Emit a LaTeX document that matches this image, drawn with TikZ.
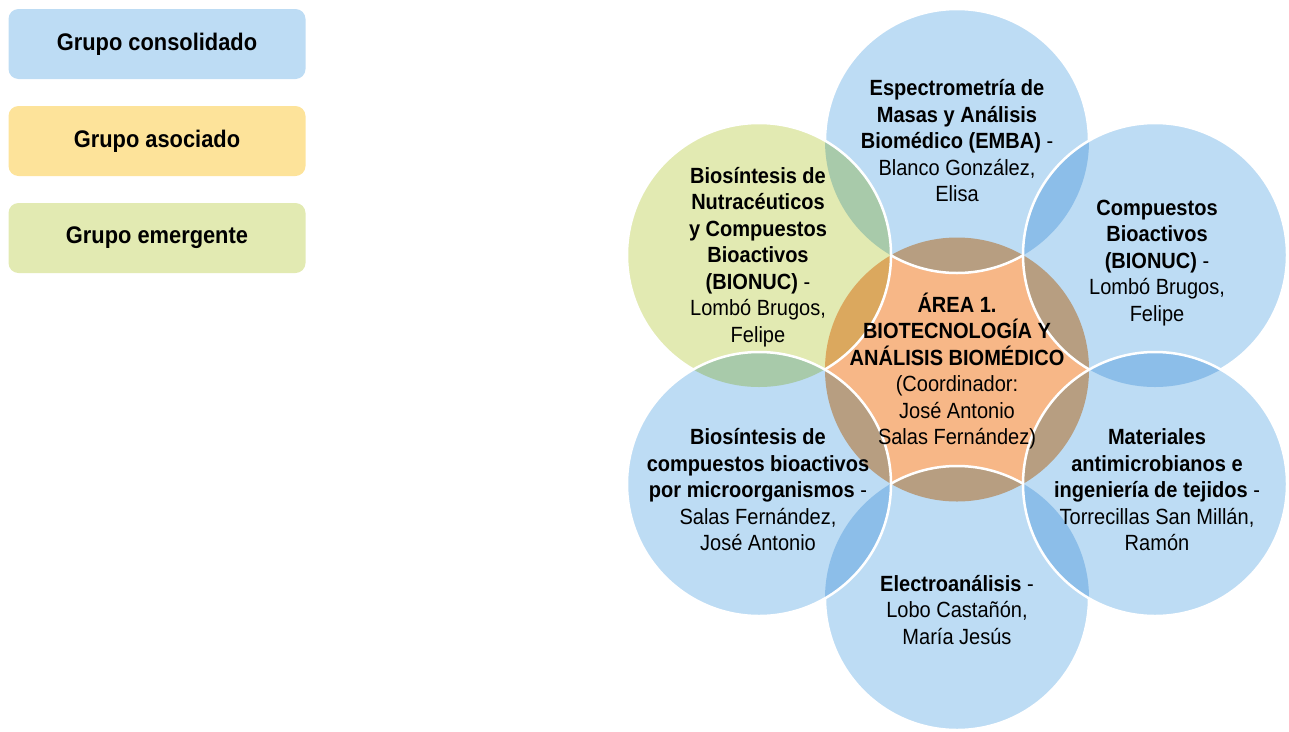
\documentclass[tikz,border=0pt]{standalone}
\usepackage{fontspec}
\setmainfont{Liberation Sans}[FakeStretch=0.91]
\usepackage{tikz}
\usetikzlibrary{calc}

\definecolor{azul}{HTML}{BDDCF4}
\definecolor{naranja}{HTML}{F7B787}
\definecolor{verde}{HTML}{E2EAB2}
\definecolor{amarillo}{HTML}{FDE39A}
% colores de los solapes
\definecolor{azulazul}{HTML}{8CBEE9}
\definecolor{azulnaranja}{HTML}{B79E81}
\definecolor{verdeazul}{HTML}{A8CAAA}
\definecolor{verdenaranja}{HTML}{DBA85E}

\tikzset{
  leyenda/.style={rounded corners=10pt, minimum width=297pt, minimum height=70pt,
    inner sep=0pt, font=\bfseries\fontsize{24}{27}\selectfont},
  texto/.style={align=center, inner sep=0pt, font=\fontsize{22}{26.5}\selectfont},
  borde/.style={white, line width=2.5pt}
}

\begin{document}
\begin{tikzpicture}[x=1pt,y=-1pt]
\useasboundingbox (0,0) rectangle (1289,731);
% centros
\coordinate (c0) at (957,369.5);
\coordinate (c1) at (957,141);
\coordinate (c2) at (759,255);
\coordinate (c3) at (1155,255);
\coordinate (c4) at (957,598);
\coordinate (c5) at (1155,484);
\coordinate (c6) at (759,484);

% leyenda
\node[leyenda, fill=azul] (consolidado) at (157,44) {Grupo consolidado};
\node[leyenda, fill=amarillo] (asociado) at (157,141) {Grupo asociado};
\node[leyenda, fill=verde] (emergente) at (157,238) {Grupo emergente};

% circulo central
\fill[naranja] (c0) circle (132);
% arriba
\fill[azul] (c1) circle (132);
\begin{scope}\clip (c0) circle (132); \fill[azulnaranja] (c1) circle (132);\end{scope}
\draw[borde] (c1) circle (132);
% arriba izquierda
\fill[verde] (c2) circle (132);
\begin{scope}\clip (c0) circle (132); \fill[verdenaranja] (c2) circle (132);\end{scope}
\begin{scope}\clip (c1) circle (132); \fill[verdeazul] (c2) circle (132);\end{scope}
\draw[borde] (c2) circle (132);
% arriba derecha
\fill[azul] (c3) circle (132);
\begin{scope}\clip (c0) circle (132); \fill[azulnaranja] (c3) circle (132);\end{scope}
\begin{scope}\clip (c1) circle (132); \fill[azulazul] (c3) circle (132);\end{scope}
\draw[borde] (c3) circle (132);
% abajo
\fill[azul] (c4) circle (132);
\begin{scope}\clip (c0) circle (132); \fill[azulnaranja] (c4) circle (132);\end{scope}
\draw[borde] (c4) circle (132);
% abajo derecha
\fill[azul] (c5) circle (132);
\begin{scope}\clip (c0) circle (132); \fill[azulnaranja] (c5) circle (132);\end{scope}
\begin{scope}\clip (c3) circle (132); \fill[azulazul] (c5) circle (132);\end{scope}
\begin{scope}\clip (c4) circle (132); \fill[azulazul] (c5) circle (132);\end{scope}
\draw[borde] (c5) circle (132);
% abajo izquierda
\fill[azul] (c6) circle (132);
\begin{scope}\clip (c0) circle (132); \fill[azulnaranja] (c6) circle (132);\end{scope}
\begin{scope}\clip (c2) circle (132); \fill[verdeazul] (c6) circle (132);\end{scope}
\begin{scope}\clip (c4) circle (132); \fill[azulazul] (c6) circle (132);\end{scope}
\draw[borde] (c6) circle (132);

% textos
\node[texto] (area) at (957,371) {\textbf{ÁREA 1.}\\ \textbf{BIOTECNOLOGÍA Y}\\ \textbf{ANÁLISIS BIOMÉDICO}\\ (Coordinador:\\ José Antonio\\ Salas Fernández)};
\node[texto] (emba) at (957,141) {\textbf{Espectrometría de}\\ \textbf{Masas y Análisis}\\ \textbf{Biomédico (EMBA)} -\\ Blanco González,\\ Elisa};
\node[texto] (nutra) at (758,257) {\textbf{Biosíntesis de}\\ \textbf{Nutracéuticos}\\ \textbf{y Compuestos}\\ \textbf{Bioactivos}\\ \textbf{(BIONUC)} -\\ Lombó Brugos,\\ Felipe};
\node[texto] (bionuc) at (1157,263) {\textbf{Compuestos}\\ \textbf{Bioactivos}\\ \textbf{(BIONUC)} -\\ Lombó Brugos,\\ Felipe};
\node[texto] (micro) at (758,490) {\textbf{Biosíntesis de}\\ \textbf{compuestos bioactivos}\\ \textbf{por microorganismos} -\\ Salas Fernández,\\ José Antonio};
\node[texto] (tejidos) at (1157,490) {\textbf{Materiales}\\ \textbf{antimicrobianos e}\\ \textbf{ingeniería de tejidos} -\\ Torrecillas San Millán,\\ Ramón};
\node[texto] (electro) at (957,610) {\textbf{Electroanálisis} -\\ Lobo Castañón,\\ María Jesús};
\end{tikzpicture}
\end{document}
